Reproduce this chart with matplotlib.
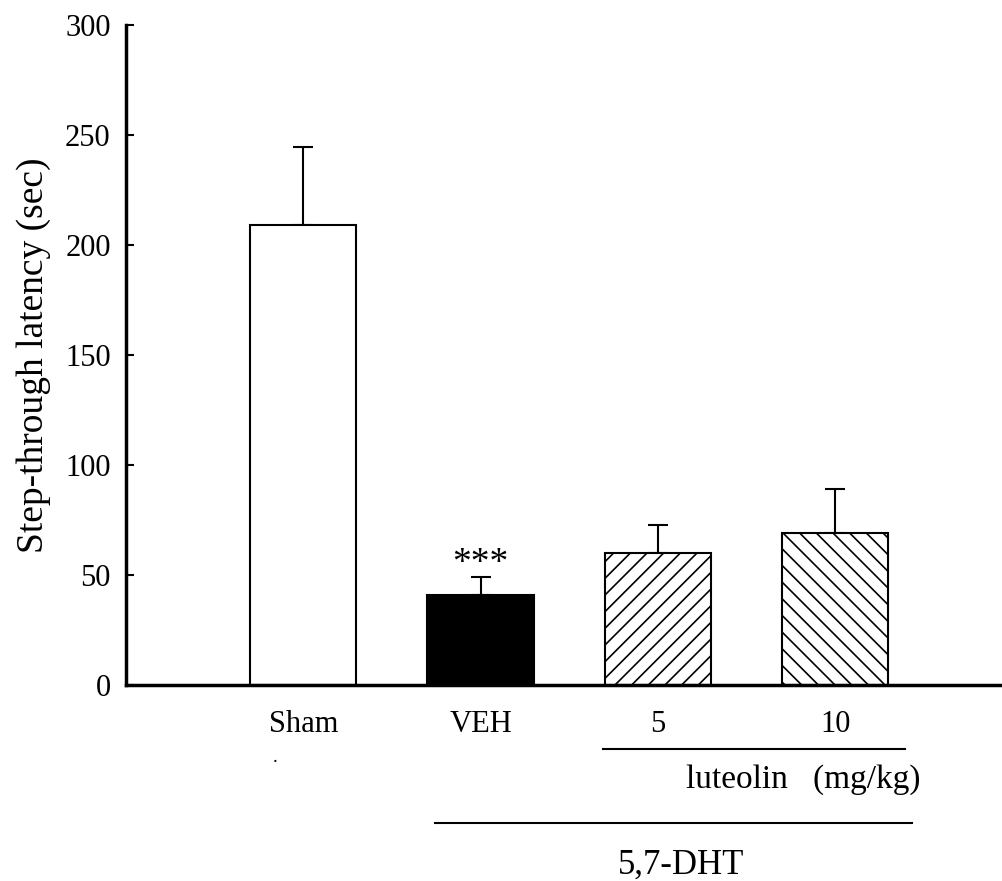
import numpy as np
import matplotlib
matplotlib.use("Agg")
import matplotlib.pyplot as plt
from matplotlib.transforms import blended_transform_factory

plt.rcParams['font.family'] = ['Liberation Serif', 'DejaVu Serif']
plt.rcParams['hatch.linewidth'] = 1.2

# data
groups = ['Sham', 'VEH', '5', '10']
latency = [209, 41, 60, 69]
sem = [35.5, 8.2, 12.7, 20]
colors = ['white', 'black', 'white', 'white']
hatches = ['', '', '//', '\\\\']

fig = plt.figure(figsize=(10.02, 8.81), dpi=100)
ax = fig.add_axes([126 / 1002, 1 - 685 / 881, 874 / 1002, 660 / 881])

x = np.arange(1, len(groups) + 1)
ax.bar(x, latency, width=0.6, color=colors, edgecolor='black', linewidth=1.5,
       hatch=hatches, zorder=2)
ax.errorbar(x, latency, yerr=[np.zeros(len(sem)), sem], fmt='none', ecolor='black',
            elinewidth=1.5, capsize=7.2, capthick=1.5, zorder=1)

# significance
ax.text(x[1], latency[1] + sem[1] + 6, '***', ha='center', va='center', fontsize=27)

ax.set_xlim(0, 4.93)
ax.set_ylim(0, 300)
ax.set_yticks(np.arange(0, 301, 50))
ax.set_xticks(x)
ax.set_xticklabels(groups, fontsize=22)
ax.tick_params(axis='x', length=0, pad=18)
ax.tick_params(axis='y', direction='in', length=6, width=1.5, labelsize=22, pad=11)
for s in ['top', 'right']:
    ax.spines[s].set_visible(False)
for s in ['left', 'bottom']:
    ax.spines[s].set_linewidth(2.5)
ax.set_ylabel('Step-through latency (sec)', fontsize=27, labelpad=10)

# group brackets below axis
tr = blended_transform_factory(ax.transData, fig.transFigure)
ax.plot([2.69, 4.395], [1 - 749 / 881] * 2, color='black', lw=1.5, transform=tr, clip_on=False)
ax.text(3.82, 1 - 780 / 881, 'luteolin   (mg/kg)', ha='center', va='center',
        fontsize=24, transform=tr)
ax.plot([1.744, 4.435], [1 - 823 / 881] * 2, color='black', lw=1.5, transform=tr, clip_on=False)
ax.text(3.13, 1 - 865 / 881, '5,7-DHT', ha='center', va='center', fontsize=25, transform=tr)
ax.text(0.84, 1 - 757 / 881, '.', ha='center', va='center', fontsize=14, transform=tr)

fig.savefig('out.png', dpi=100)
